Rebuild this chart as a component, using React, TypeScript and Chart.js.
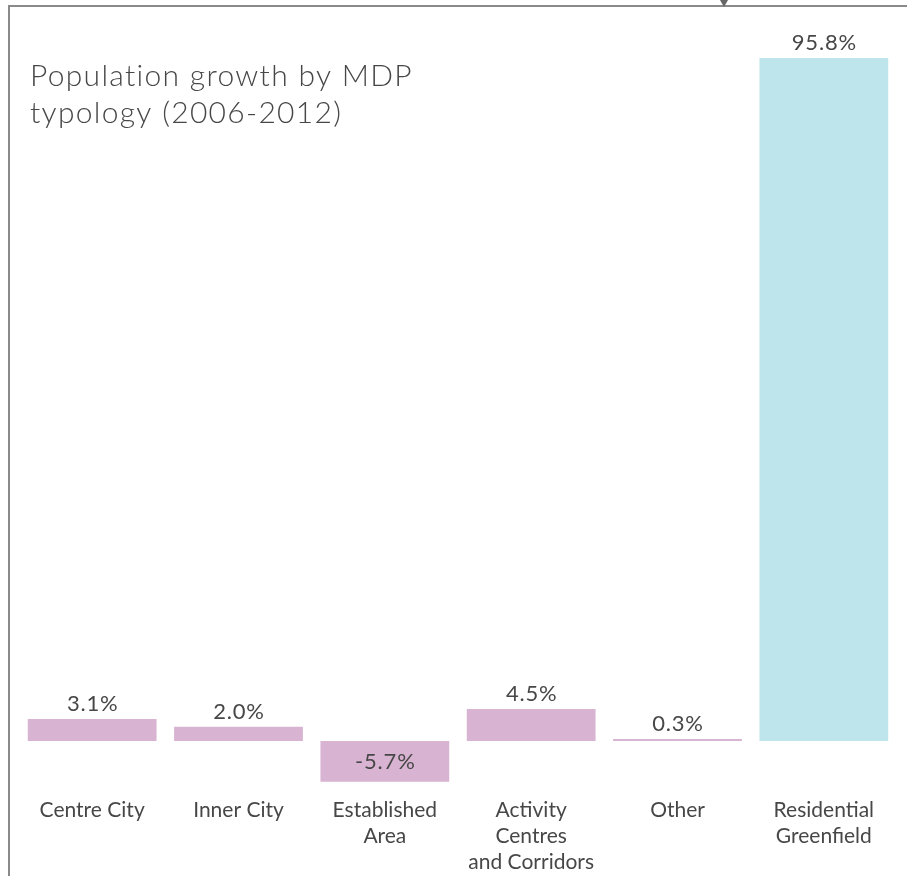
import React, { useEffect, useRef } from "react";
import { Chart, registerables } from "chart.js";

Chart.register(...registerables);

const categories: string[][] = [
  ["Centre City"],
  ["Inner City"],
  ["Established", "Area"],
  ["Activity", "Centres", "and Corridors"],
  ["Other"],
  ["Residential", "Greenfield"],
];
const growthValues: number[] = [3.1, 2.0, -5.7, 4.5, 0.3, 95.8];
const titleLines: string[] = ["Population growth by MDP", "typology (2006-2012)"];

const PINK = "#d8b3d2";
const CYAN = "#bee5eb";
const barColors: string[] = [PINK, PINK, PINK, PINK, PINK, CYAN];
const TEXT = "#474747";
const FONT = "Lato, 'Open Sans', sans-serif";

const decorPlugin = {
  id: "decor",
  afterDraw(chart: any) {
    const ctx = chart.ctx as CanvasRenderingContext2D & { letterSpacing?: string };
    ctx.save();
    // frame
    ctx.strokeStyle = "#8a8a8a";
    ctx.lineWidth = 2;
    ctx.beginPath();
    ctx.moveTo(9, 876);
    ctx.lineTo(9, 6);
    ctx.lineTo(907, 6);
    ctx.stroke();
    ctx.fillStyle = "#666";
    ctx.beginPath();
    ctx.moveTo(720, 0);
    ctx.lineTo(728, 0);
    ctx.lineTo(724, 7);
    ctx.closePath();
    ctx.fill();
    // title
    ctx.fillStyle = TEXT;
    ctx.font = `300 30px ${FONT}`;
    ctx.letterSpacing = "1.3px";
    ctx.textAlign = "left";
    ctx.textBaseline = "alphabetic";
    titleLines.forEach((t, i) => ctx.fillText(t, 30, 86 + i * 37));
    // value labels
    const meta = chart.getDatasetMeta(0);
    ctx.font = `22px ${FONT}`;
    ctx.letterSpacing = "0.8px";
    ctx.textAlign = "center";
    meta.data.forEach((bar: any, i: number) => {
      const v = growthValues[i];
      const txt = v.toFixed(1) + "%";
      if (v >= 0) {
        ctx.textBaseline = "alphabetic";
        ctx.fillText(txt, bar.x + 0.5, bar.y - 8);
      } else {
        ctx.textBaseline = "middle";
        ctx.fillText(txt, bar.x + 0.5, (bar.y + bar.base) / 2);
      }
    });
    ctx.restore();
  },
};

export default function App() {
  const ref = useRef<HTMLCanvasElement | null>(null);
  useEffect(() => {
    document.body.style.margin = "0";
    const chart = new Chart(ref.current as HTMLCanvasElement, {
      type: "bar",
      data: {
        labels: categories,
        datasets: [
          {
            data: growthValues,
            backgroundColor: barColors,
            borderWidth: 0,
            categoryPercentage: 0.88,
            barPercentage: 1,
          },
        ],
      },
      options: {
        animation: false,
        responsive: false,
        maintainAspectRatio: false,
        layout: { padding: { top: 28, left: 19, right: 10, bottom: 0 } },
        plugins: { legend: { display: false }, tooltip: { enabled: false }, title: { display: false } },
        scales: {
          x: {
            grid: { display: false, drawTicks: false },
            border: { display: false },
            ticks: {
              color: TEXT,
              font: { family: FONT, size: 21, lineHeight: 1.238 },
              padding: 1,
              maxRotation: 0,
              autoSkip: false,
            },
          },
          y: {
            display: false,
            min: -7.7,
            max: 100,
          },
        },
      },
      plugins: [decorPlugin],
    });
    return () => chart.destroy();
  }, []);
  return (
    <div style={{ width: 907, height: 876 }}>
      <canvas ref={ref} width={907} height={876} style={{ display: "block" }} />
    </div>
  );
}
